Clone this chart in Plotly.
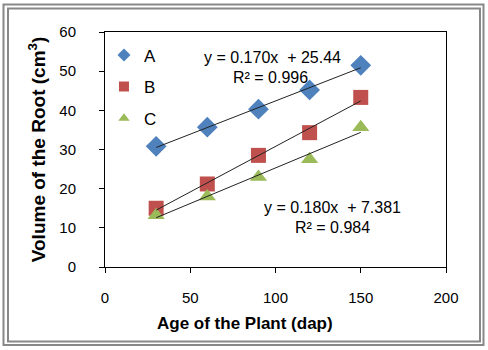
import numpy as np
import plotly.graph_objects as go

age = [30, 60, 90, 120, 150]
series_names = ["A", "B", "C"]
vol_a = [30.8, 35.7, 40.3, 45.2, 51.5]
vol_b = [15.0, 21.2, 28.5, 34.3, 43.3]
vol_c = [13.2, 18.0, 23.0, 27.5, 35.7]
colors = ["#4F81BD", "#C0504D", "#9BBB59"]
symbols = ["diamond", "square", "triangle-up"]
eq_a = ["y = 0.170x&nbsp; + 25.44", "R² = 0.996"]
eq_c = ["y = 0.180x&nbsp; + 7.381", "R² = 0.984"]
x_title = "Age of the Plant (dap)"
y_title = "Volume of the Root (cm<sup>3</sup>)"

FONT = "Liberation Sans, Arial, sans-serif"
fig = go.Figure()

for name, vals, col, sym in zip(series_names, [vol_a, vol_b, vol_c], colors, symbols):
    fig.add_trace(go.Scatter(x=age, y=vals, mode="markers", name=name, showlegend=False,
                             marker=dict(color=col, symbol=sym, size=15 if sym != "diamond" else 16,
                                         line=dict(width=0))))

for vals in [vol_a, vol_b, vol_c]:
    k, b = np.polyfit(age, vals, 1)
    xs = [age[0], age[-1]]
    fig.add_trace(go.Scatter(x=xs, y=[k * v + b for v in xs], mode="lines",
                             line=dict(color="#222222", width=1), showlegend=False,
                             hoverinfo="skip"))

# legend entries (smaller symbols, as in the reference)
for name, col, sym in zip(series_names, colors, symbols):
    fig.add_trace(go.Scatter(x=[None], y=[None], mode="markers", name=name, legendgroup=name,
                             marker=dict(color=col, symbol=sym, size=10, line=dict(width=0))))

ann_font = dict(family=FONT, size=16, color="black")
fig.add_annotation(x=98, y=53.6, xref="x", yref="y", text=eq_a[0], showarrow=False, font=ann_font)
fig.add_annotation(x=97, y=48.5, xref="x", yref="y", text=eq_a[1], showarrow=False, font=ann_font)
fig.add_annotation(x=133.7, y=15.1, xref="x", yref="y", text=eq_c[0], showarrow=False, font=ann_font)
fig.add_annotation(x=133.7, y=10.0, xref="x", yref="y", text=eq_c[1], showarrow=False, font=ann_font)

# x-axis title centred on the whole chart, as in the reference
fig.add_annotation(x=(245 - 105) / 341, y=(267 - 323) / 235, xref="paper", yref="paper",
                   text="<b>" + x_title + "</b>", showarrow=False, xanchor="center", yanchor="middle",
                   font=dict(family=FONT, size=17, color="black"))

# outer double border
def px2paper(px, py):
    return (px - 105) / 341, (267 - py) / 235

for (x0p, y0p, x1p, y1p) in [(3.5, 4.5, 483.5, 345), (8, 8.5, 480, 341.5)]:
    x0, y0 = px2paper(x0p, y0p)
    x1, y1 = px2paper(x1p, y1p)
    fig.add_shape(type="rect", xref="paper", yref="paper", x0=x0, y0=y1, x1=x1, y1=y0,
                  line=dict(color="#888888", width=2), layer="below")

fig.update_layout(
    width=488, height=350,
    margin=dict(l=105, r=42, t=32, b=83),
    paper_bgcolor="white", plot_bgcolor="white",
    font=dict(family=FONT, size=15, color="black"),
    showlegend=True,
    legend=dict(x=-0.003, y=0.977, xanchor="left", yanchor="top", bgcolor="rgba(0,0,0,0)",
                font=dict(size=17), tracegroupgap=6.5, itemsizing="trace", itemwidth=30),
    xaxis=dict(range=[0, 200], dtick=50, showgrid=False, zeroline=False,
               showline=True, linecolor="black", linewidth=1, mirror=True,
               ticks="outside", ticklen=5, tickcolor="black", ticklabelstandoff=12),
    yaxis=dict(range=[0, 60], dtick=10, showgrid=False, zeroline=False,
               showline=True, linecolor="black", linewidth=1, mirror=True,
               ticks="outside", ticklen=5, tickcolor="black", ticklabelstandoff=20,
               title=dict(text="<b>" + y_title + "</b>", font=dict(size=19), standoff=8)),
)

fig.write_html("out.html", config={"displayModeBar": False},
               post_script="document.body.style.margin='0';")
